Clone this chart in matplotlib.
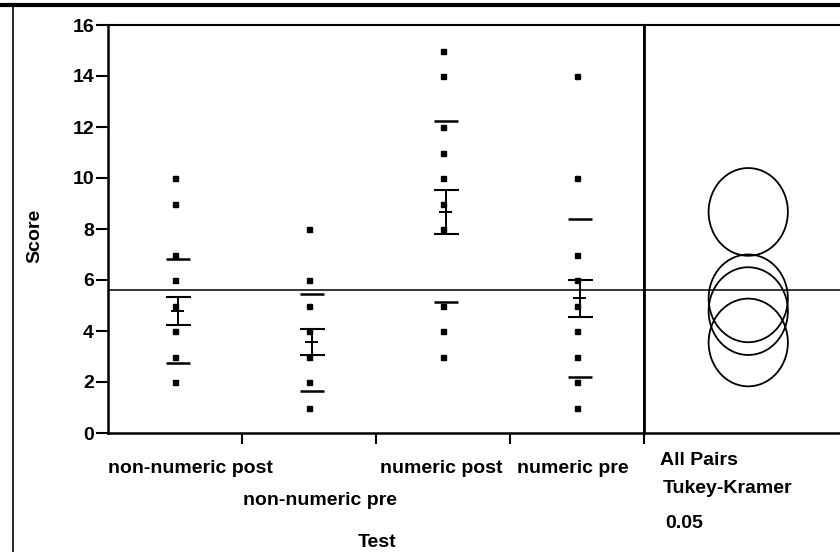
import numpy as np
import matplotlib.pyplot as plt
from matplotlib.patches import Ellipse
from matplotlib.lines import Line2D
from matplotlib.transforms import blended_transform_factory, ScaledTranslation

plt.rcParams['font.family'] = ['Liberation Sans', 'DejaVu Sans']
plt.rcParams['font.size'] = 14
plt.rcParams['font.weight'] = 'bold'

# values
tests = ['non-numeric post', 'non-numeric pre', 'numeric post', 'numeric pre']
scores = [
    [10, 9, 7, 6, 5, 4, 3, 2],
    [8, 6, 5, 4, 3, 2, 1],
    [15, 14, 12, 11, 10, 9, 8, 5, 4, 3],
    [14, 10, 7, 6, 5, 4, 3, 2, 1],
]
means = [4.78, 3.55, 8.67, 5.28]
std_errs = [0.55, 0.51, 0.87, 0.72]
std_devs = [2.03, 1.90, 3.55, 3.10]
grand_mean = 5.6
circle_radii = [1.72, 1.72, 1.72, 1.72]
yticks = [0, 2, 4, 6, 8, 10, 12, 14, 16]

W, H = 840, 552
fig = plt.figure(figsize=(W / 100, H / 100), dpi=100)

def fx(px):
    return px / W

def fy(py):
    return 1 - py / H

# main panel
ax = fig.add_axes([fx(108), fy(433), (644 - 108) / W, (433 - 25) / H])
pos = np.arange(len(tests))
ax.set_xlim(-0.5, 3.5)
ax.set_ylim(0, 16)

for i in range(len(tests)):
    p = pos[i]
    ax.plot(np.full(len(scores[i]), p), scores[i], 's', color='black', ms=3.6, mec='black')
    # std dev lines
    ax.hlines([means[i] + std_devs[i], means[i] - std_devs[i]], p - 0.07, p + 0.115,
              color='black', lw=1.8)
    # mean with std error bars
    ax.errorbar(p + 0.02, means[i], yerr=std_errs[i], fmt='none', ecolor='black',
                capsize=9, elinewidth=1.4, capthick=1.5)
    ax.hlines(means[i], p + 0.02 - 0.047, p + 0.02 + 0.047, color='black', lw=1.4)

ax.axhline(grand_mean, color='black', lw=1.1)

ax.set_yticks(yticks)
ax.set_xticks(pos + 0.5)
ax.tick_params(axis='x', direction='out', length=8, width=1.5, labelbottom=False)
ax.tick_params(axis='y', direction='out', length=9, width=1.5, labelsize=14, pad=1)
for s in ['left', 'bottom']:
    ax.spines[s].set_linewidth(1.8)
ax.spines['top'].set_linewidth(1.5)
ax.spines['right'].set_linewidth(2.0)

# category labels, staggered like the original
trans = blended_transform_factory(ax.transData, fig.transFigure)
label_dx = [15, 11, -2, -4]
label_y = [473, 505, 473, 473]
for i, lab in enumerate(tests):
    off = ScaledTranslation(label_dx[i] / 100, 0, fig.dpi_scale_trans)
    ax.text(pos[i], fy(label_y[i]), lab, transform=trans + off,
            ha='center', va='baseline')

fig.text(fx(377), fy(547), 'Test', ha='center', va='baseline')
fig.text(fx(35), fy(236), 'Score', rotation=90, ha='center', va='center')

# comparison circles panel
axc = fig.add_axes([fx(644), fy(433), (W - 644) / W + 0.01, (433 - 25) / H])
axc.set_xlim(0, 1)
axc.set_ylim(0, 16)
for i in range(len(tests)):
    axc.add_patch(Ellipse((0.51, means[i]), 76 / 196, 2 * circle_radii[i],
                          fill=False, ec='black', lw=1.3))
axc.axhline(grand_mean, color='black', lw=1.1)
axc.set_xticks([])
axc.set_yticks([])
axc.spines['right'].set_visible(False)
axc.spines['left'].set_linewidth(2.0)
axc.spines['top'].set_linewidth(1.5)
axc.spines['bottom'].set_linewidth(1.8)

fig.text(fx(660), fy(465), 'All Pairs', ha='left', va='baseline')
fig.text(fx(663), fy(493), 'Tukey-Kramer', ha='left', va='baseline')
fig.text(fx(665), fy(528), '0.05', ha='left', va='baseline')

# frame of the report
fig.add_artist(Line2D([0, 1], [fy(5), fy(5)], transform=fig.transFigure, color='black', lw=3))
fig.add_artist(Line2D([fx(12.7), fx(12.7)], [fy(5), 0], transform=fig.transFigure,
                      color='black', lw=1.2))

fig.savefig('out.png', dpi=100)
